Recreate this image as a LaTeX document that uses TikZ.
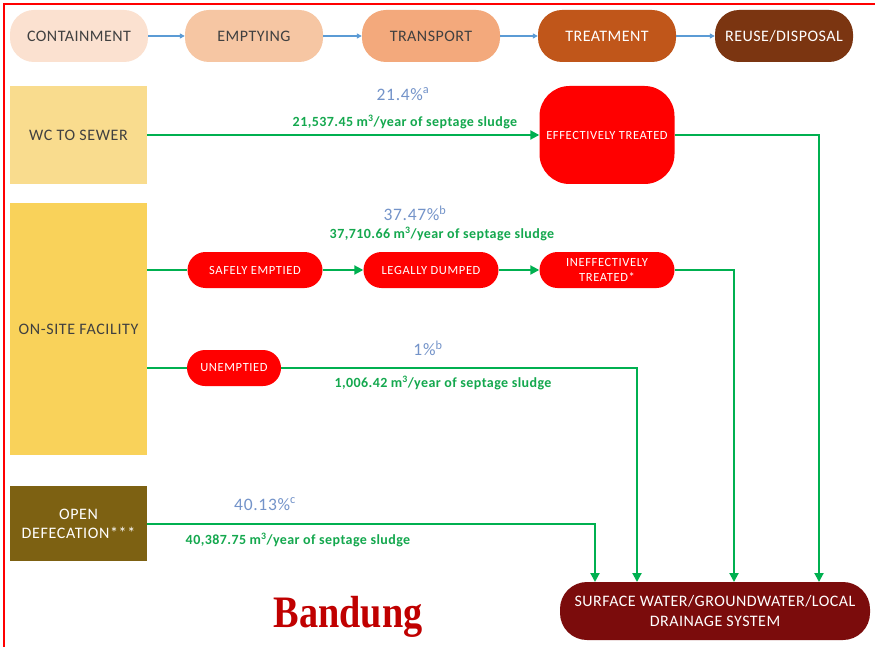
\documentclass[tikz,border=0pt]{standalone}
\usepackage{fontspec}
\setmainfont{Carlito}
\newfontfamily\bigserif{Liberation Serif}
\usetikzlibrary{arrows.meta}
\definecolor{stA}{HTML}{FBE1D0}
\definecolor{stB}{HTML}{F6C6A3}
\definecolor{stC}{HTML}{F3A97C}
\definecolor{stD}{HTML}{C0561A}
\definecolor{stE}{HTML}{7B3511}
\definecolor{wcY}{HTML}{F9DC8E}
\definecolor{osY}{HTML}{F9D25A}
\definecolor{odB}{HTML}{7D6112}
\definecolor{redN}{HTML}{FF0000}
\definecolor{sinkR}{HTML}{7B0C0C}
\definecolor{gLine}{HTML}{00B050}
\definecolor{gText}{HTML}{14A84E}
\definecolor{pBlue}{HTML}{7393C9}
\definecolor{aBlue}{HTML}{5B9BD5}
\definecolor{txtG}{HTML}{404040}
\definecolor{bandR}{HTML}{C00000}
\tikzset{
  stage/.style={rectangle, rounded corners=24pt, minimum width=138pt, minimum height=52pt, inner sep=0pt, font=\fontsize{16}{18}\selectfont\addfontfeatures{LetterSpace=3}, align=center},
  srcbox/.style={rectangle, minimum width=137pt, inner sep=0pt, font=\fontsize{16}{19}\selectfont\addfontfeatures{LetterSpace=4}, align=center},
  rednode/.style={rectangle, fill=redN, text=white, rounded corners=18pt, minimum width=135pt, minimum height=36pt, inner sep=0pt, font=\fontsize{12.5}{15}\selectfont\addfontfeatures{LetterSpace=5}, align=center},
  gline/.style={draw=gLine, line width=2pt},
  garrow/.style={draw=gLine, line width=2pt, -{Triangle[length=9pt,width=9pt]}},
  barrow/.style={draw=aBlue, line width=1.2pt, -{Triangle[length=5pt,width=5pt]}},
  pct/.style={text=pBlue, font=\fontsize{17.5}{19}\selectfont\addfontfeatures{LetterSpace=4}, inner sep=0pt},
  vol/.style={text=gText, font=\fontsize{14}{16}\selectfont\bfseries\addfontfeatures{LetterSpace=3}, inner sep=0pt}
}
\begin{document}
\begin{tikzpicture}[x=1pt,y=-1pt]
\useasboundingbox (0,0) rectangle (875,647);
\fill[white] (0,0) rectangle (875,647);
\draw[red, line width=2pt] (4,647) -- (4,4) -- (875,4);

% top row
\node[stage, fill=stA, text=txtG] (cont) at (79,36) {CONTAINMENT};
\node[stage, fill=stB, text=txtG] (empt) at (254,36) {EMPTYING};
\node[stage, fill=stC, text=txtG] (trans) at (431,36) {TRANSPORT};
\node[stage, fill=stD, text=white] (treat) at (607,36) {TREATMENT};
\node[stage, fill=stE, text=white] (reuse) at (784,36) {REUSE/DISPOSAL};
\draw[barrow] (cont) -- (empt);
\draw[barrow] (empt) -- (trans);
\draw[barrow] (trans) -- (treat);
\draw[barrow] (treat) -- (reuse);

% sources
\node[srcbox, fill=wcY, minimum height=98pt, text=txtG] (wc) at (78.5,135) {WC TO SEWER};
\node[srcbox, fill=osY, minimum height=252pt, text=txtG] (onsite) at (78.5,329) {ON-SITE FACILITY};
\node[srcbox, fill=odB, minimum height=75pt, text=white] (open) at (78.5,523.5) {OPEN\\DEFECATION***};

% red nodes
\node[rednode, rounded corners=30pt, minimum height=98pt] (eff) at (607,135) {EFFECTIVELY TREATED};
\node[rednode] (safe) at (255,270) {SAFELY EMPTIED};
\node[rednode] (legal) at (431,270) {LEGALLY DUMPED};
\node[rednode] (ineff) at (607,270) {INEFFECTIVELY\\TREATED*};
\node[rednode, minimum width=94pt] (unemp) at (234,368) {UNEMPTIED};

% sink
\node[rectangle, fill=sinkR, text=white, rounded corners=27pt, minimum width=310pt, minimum height=58pt, inner sep=0pt, align=center, font=\fontsize{16}{20}\selectfont\addfontfeatures{LetterSpace=3}] (sink) at (715,611) {SURFACE WATER/GROUNDWATER/LOCAL\\DRAINAGE SYSTEM};
\coordinate (s1) at (595,582);
\coordinate (s2) at (637,582);
\coordinate (s3) at (734,582);
\coordinate (s4) at (819,582);

% connectors
\draw[garrow] (wc.east |- eff.west) -- (eff.west);
\draw[garrow] (eff.east) -| (s4);
\draw[gline] (onsite.east |- safe.west) -- (safe.west);
\draw[garrow] (safe) -- (legal);
\draw[garrow] (legal) -- (ineff);
\draw[garrow] (ineff.east) -| (s3);
\draw[gline] (onsite.east |- unemp.west) -- (unemp.west);
\draw[garrow] (unemp.east) -| (s2);
\draw[garrow] (open.east) -| (s1);

% labels
\node[pct] (p1) at (403,94) {21.4\%\textsuperscript{a}};
\node[vol] (v1) at (405,122) {21,537.45 m\textsuperscript{3}/year of septage sludge};
\node[pct] (p2) at (415,213) {37.47\%\textsuperscript{b}};
\node[vol] (v2) at (442,234) {37,710.66 m\textsuperscript{3}/year of septage sludge};
\node[pct] (p3) at (428,348) {1\%\textsuperscript{b}};
\node[vol] (v3) at (443,383) {1,006.42 m\textsuperscript{3}/year of septage sludge};
\node[pct] (p4) at (265,504) {40.13\%\textsuperscript{c}};
\node[vol] (v4) at (298,540) {40,387.75 m\textsuperscript{3}/year of septage sludge};

\node[text=bandR, inner sep=0pt, xscale=0.85, font=\fontsize{45}{47}\bigserif\bfseries] (band) at (348,617) {Bandung};
\end{tikzpicture}
\end{document}
